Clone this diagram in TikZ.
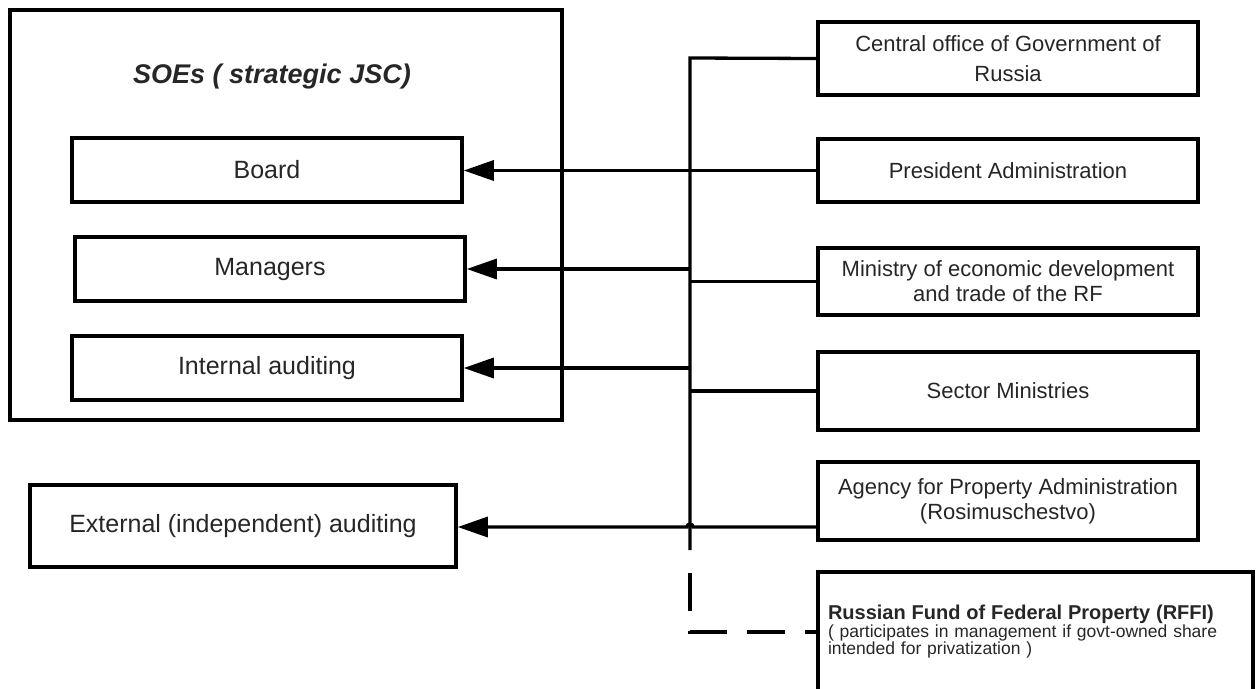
\documentclass[tikz,border=0pt]{standalone}
\usepackage{fontspec}
\setmainfont{Liberation Sans}
\usepackage{tikz}
\usetikzlibrary{arrows.meta}

\begin{document}
\begin{tikzpicture}[x=1pt,y=-1pt]
  \tikzstyle{box}=[draw,line width=3.5pt,rectangle,inner sep=0pt,text=black!85]
  \tikzstyle{unit}=[box,minimum width=390pt,minimum height=64pt,font=\fontsize{25}{30}\selectfont]
  \tikzstyle{body}=[box,minimum width=380pt,align=center,font=\fontsize{22}{25}\selectfont]
  \tikzstyle{link}=[line width=3.3pt]
  \tikzstyle{ctrl}=[link,-{Triangle[length=30pt,width=20pt]}]

  \useasboundingbox (0,0) rectangle (1260,688);

  \node[box,minimum width=552pt,minimum height=410pt] (soe) at (286,215) {};
  \node[text=black!85,font=\fontsize{27}{30}\selectfont\bfseries\itshape] (soetitle) at (272,77) {SOEs ( strategic JSC)};

  \node[unit] (board) at (267,170) {Board};
  \node[unit] (managers) at (270,269) {Managers};
  \node[unit] (internal) at (267,368) {Internal auditing};
  \node[unit,minimum width=426pt,minimum height=82pt] (external) at (243,526) {External (independent) auditing};

  \node[body,minimum height=73pt] (central) at (1008,58.5) {Central office of Government of\\[5pt]Russia};
  \node[body,minimum height=63pt] (president) at (1008,170.5) {President Administration};
  \node[body,minimum height=67pt] (ministry) at (1008,281.5) {Ministry of economic development\\and trade of the RF};
  \node[body,minimum height=78pt] (sector) at (1008,391) {Sector Ministries};
  \node[body,minimum height=78pt] (agency) at (1008,501) {Agency for Property Administration\\(Rosimuschestvo)};
  \node[box,minimum width=435pt,minimum height=120pt,inner xsep=10pt,text width=415pt,align=left,font=\fontsize{17.5}{17.5}\selectfont] (rffi) at (1035.5,632)
    {{\bfseries\fontsize{20}{20}\selectfont Russian Fund of Federal Property (RFFI)}\\( participates in management if govt-owned share\\intended for privatization )};

  \coordinate (bustop) at (690,58);
  \coordinate (busend) at (690,550);
  \coordinate (dashtop) at (690,573);
  \coordinate (hop) at (690,527);

  \draw[link] (central.west) -- (bustop) -- (busend);
  \draw[link] (bustop |- ministry.west) -- (ministry.west);
  \draw[link] (bustop |- sector.west) -- (sector.west);

  \draw[ctrl] (president.west) -- (president.west -| board.east);
  \draw[ctrl] (managers.east -| bustop) -- (managers.east);
  \draw[ctrl] (internal.east -| bustop) -- (internal.east);
  \draw[ctrl] (agency.west |- hop) -- ([xshift=3pt]hop) arc (0:-180:3) -- (external.east |- hop);

  \draw[link,dash pattern=on 38pt off 20pt] (dashtop) -- (dashtop |- rffi.west) -- (rffi.west);
\end{tikzpicture}
\end{document}
